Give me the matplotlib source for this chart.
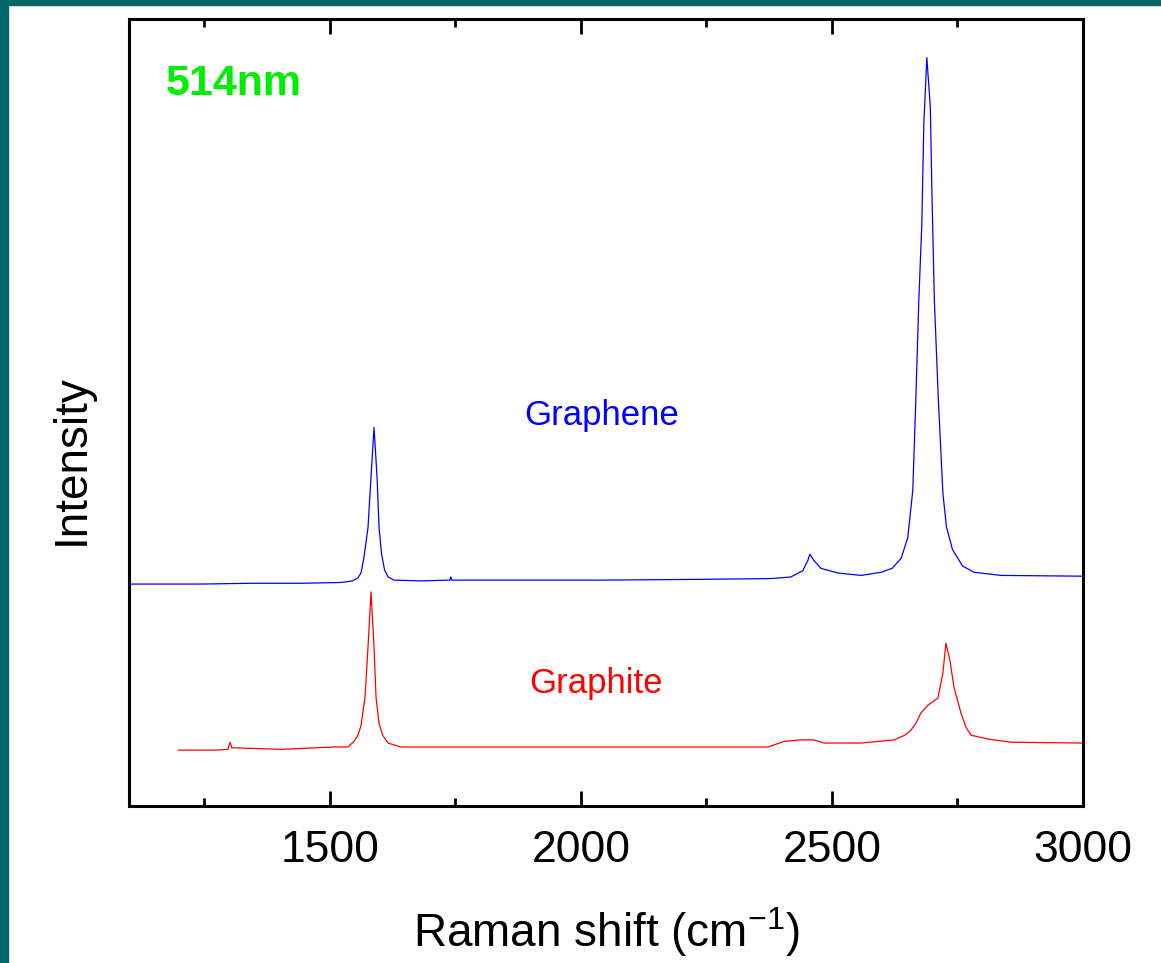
import matplotlib
matplotlib.use("Agg")
import matplotlib.pyplot as plt
from matplotlib.patches import Rectangle
from matplotlib.ticker import MultipleLocator, NullLocator

plt.rcParams["font.family"] = ["Liberation Sans", "DejaVu Sans"]
plt.rcParams["mathtext.fontset"] = "custom"
plt.rcParams["mathtext.rm"] = "Liberation Sans"

# Raman spectra (arbitrary intensity units)
graphene_shift = [1104, 1243, 1343, 1442, 1522, 1545, 1556, 1562, 1568, 1576,
                  1582, 1588, 1594, 1598, 1603, 1609, 1616, 1628, 1681, 1739,
                  1741, 1743, 1841, 2040, 2239, 2379, 2418, 2442, 2452, 2456,
                  2464, 2478, 2512, 2558, 2598, 2620, 2638, 2651, 2661, 2667,
                  2673, 2679, 2683, 2689, 2696, 2699, 2704, 2712, 2721, 2728,
                  2740, 2760, 2783, 2837, 3000]
graphene_int = [28.2, 28.2, 28.3, 28.3, 28.4, 28.6, 29.0, 29.6, 31.6, 35.4,
                41.8, 48.1, 41.8, 35.4, 32.0, 30.0, 29.1, 28.7, 28.6, 28.7,
                29.1, 28.7, 28.7, 28.7, 28.8, 28.9, 29.1, 29.9, 31.2, 32.0,
                31.2, 30.2, 29.6, 29.3, 29.7, 30.2, 31.5, 34.1, 40.1, 51.5,
                64.2, 74.0, 86.7, 95.1, 88.7, 78.2, 64.2, 51.5, 39.7, 35.5,
                32.6, 30.5, 29.7, 29.3, 29.2]

graphite_shift = [1199, 1273, 1297, 1301, 1305, 1402, 1508, 1536, 1548, 1556,
                  1562, 1570, 1576, 1582, 1588, 1592, 1598, 1605, 1616, 1641,
                  1841, 2040, 2239, 2373, 2404, 2438, 2464, 2484, 2558, 2624,
                  2645, 2657, 2668, 2677, 2691, 2711, 2721, 2727, 2735, 2743,
                  2757, 2767, 2777, 2811, 2857, 3000]
graphite_int = [7.1, 7.1, 7.2, 8.1, 7.4, 7.2, 7.5, 7.5, 8.2, 9.0,
                10.2, 13.8, 20.2, 27.2, 20.2, 13.8, 10.5, 9.0, 8.0, 7.5,
                7.5, 7.5, 7.5, 7.5, 8.2, 8.4, 8.4, 8.0, 8.0, 8.4,
                9.0, 9.6, 10.6, 11.8, 12.8, 13.7, 16.9, 20.7, 18.5, 15.1,
                11.8, 10.0, 9.0, 8.5, 8.1, 8.0]

fig = plt.figure(figsize=(11.61, 9.63), dpi=100)

# teal slide border (left and top)
fig.patches.append(Rectangle((0, 0), 8 / 1161, 1, transform=fig.transFigure,
                             color="#006666", zorder=0))
fig.patches.append(Rectangle((0, 1 - 5 / 963), 1, 5 / 963, transform=fig.transFigure,
                             color="#006666", zorder=0))

ax = fig.add_axes([129 / 1161, 1 - 806 / 963, (1083 - 129) / 1161, (806 - 19) / 963])

ax.plot(graphene_shift, graphene_int, color="#0000ff", lw=0.9)
ax.plot(graphite_shift, graphite_int, color="#ff0000", lw=0.9)

ax.set_xlim(1100, 3000)
ax.set_ylim(0, 100)

ax.text(1173, 91.7, "514nm", color="#00ee00", fontsize=31, fontweight="bold",
        ha="left", va="center")
ax.text(2042, 49.6, "Graphene", color="#0000ff", fontsize=25, ha="center", va="center")
ax.text(2030, 15.6, "Graphite", color="#ff0000", fontsize=25, ha="center", va="center")

ax.xaxis.set_major_locator(MultipleLocator(500))
ax.xaxis.set_minor_locator(MultipleLocator(250))
ax.yaxis.set_major_locator(NullLocator())
ax.tick_params(axis="x", which="both", direction="in", top=True, bottom=True)
ax.tick_params(axis="x", which="major", length=11, width=2, labelsize=32, pad=17)
ax.tick_params(axis="x", which="minor", length=6, width=2)
for sp in ax.spines.values():
    sp.set_linewidth(2.2)

ax.set_xlabel(r"Raman shift (cm$^{\mathrm{-1}}$)", fontsize=33, labelpad=25)
fig.text(72 / 1161, 1 - 460 / 963, "Intensity", fontsize=33, rotation=90,
         ha="center", va="center")

fig.savefig("out.png", dpi=100)
